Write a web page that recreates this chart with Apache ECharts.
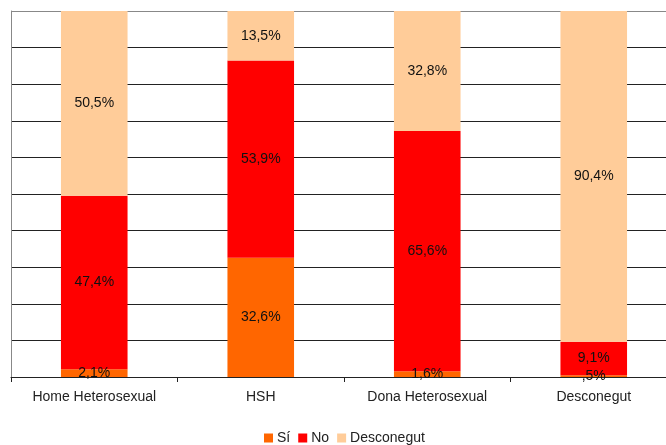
<!DOCTYPE html>
<html>
<head>
<meta charset="utf-8">
<script src="https://cdn.jsdelivr.net/npm/echarts@6/dist/echarts.min.js"></script>
<style>
  html, body { margin: 0; padding: 0; background: #fff; overflow: hidden; }
  #container { width: 690px; height: 445px; }
</style>
</head>
<body>
<div id="container"></div>
<script>
var categories = ["Home Heterosexual", "HSH", "Dona Heterosexual", "Desconegut"];
var siValues = [2.1, 32.6, 1.6, 0.5];
var noValues = [47.4, 53.9, 65.6, 9.1];
var desconegutValues = [50.5, 13.5, 32.8, 90.4];

var dom = document.getElementById("container");
var chart = echarts.init(dom);

// 0,5 is written ",5" in the original
function pct(p) {
    var s = p.value.toFixed(1).replace(".", ",");
    if (s.indexOf("0,") === 0) s = s.slice(1);
    return s + "%";
}

var gridColors = [];
for (var i = 0; i < 10; i++) gridColors.push("#222");
gridColors.push("#888");

function makeSeries(name, values, color) {
    return {
        name: name,
        type: "bar",
        stack: "total",
        barWidth: "40%",
        data: values,
        itemStyle: { color: color },
        label: {
            show: true,
            position: "inside",
            formatter: pct,
            color: "#111",
            fontSize: 14,
            fontFamily: "Liberation Sans"
        }
    };
}

var option = {
    animation: false,
    textStyle: { fontFamily: "Liberation Sans" },
    grid: { left: 11, right: 13, top: 11, bottom: 68, containLabel: false },
    xAxis: {
        type: "category",
        data: categories,
        axisLine: { lineStyle: { color: "#222", width: 1 } },
        axisTick: { show: true, interval: 0, length: 5, lineStyle: { color: "#222" } },
        axisLabel: { interval: 0, hideOverlap: false, color: "#222", fontSize: 14, margin: 13, fontFamily: "Liberation Sans" }
    },
    yAxis: {
        type: "value",
        min: 0,
        max: 100,
        interval: 10,
        axisLabel: { show: false },
        axisTick: { show: false },
        axisLine: { show: true, lineStyle: { color: "#888" } },
        splitLine: { show: true, lineStyle: { color: gridColors, width: 1 } }
    },
    legend: {
        left: 264,
        top: 431,
        padding: 0,
        itemWidth: 9,
        itemHeight: 9,
        itemGap: 8,
        icon: "rect",
        textStyle: { color: "#222", fontSize: 14, padding: [0, 0, 0, -1] },
        data: ["Sí", "No", "Desconegut"]
    },
    series: [
        makeSeries("Sí", siValues, "#FF6600"),
        makeSeries("No", noValues, "#FF0000"),
        makeSeries("Desconegut", desconegutValues, "#FFCC99")
    ]
};

chart.setOption(option);
</script>
</body>
</html>
